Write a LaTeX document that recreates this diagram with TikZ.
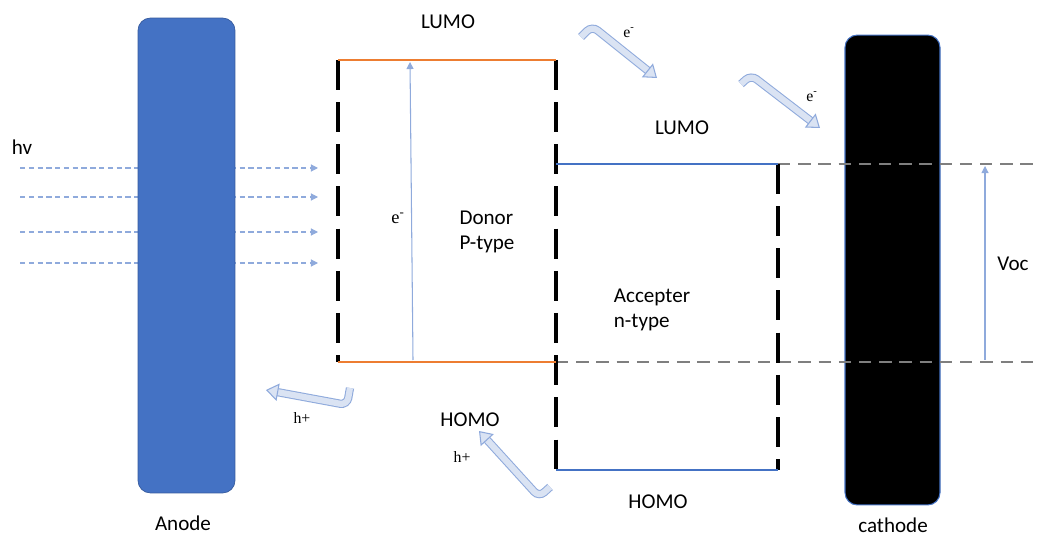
\documentclass[tikz,border=0pt]{standalone}
\usepackage{fontspec}
\setmainfont{Carlito}
\newfontfamily\timesfont{Liberation Serif}
\usetikzlibrary{arrows.meta}

\definecolor{officeblue}{HTML}{4472C4}
\definecolor{lightblue}{HTML}{8FAADC}
\definecolor{paleblue}{HTML}{DAE3F3}
\definecolor{officeorange}{HTML}{ED7D31}
\definecolor{dashgrey}{HTML}{7F7F7F}

\tikzset{
  txt/.style={font=\fontsize{12}{14}\selectfont, align=left},
  small/.style={font=\timesfont\fontsize{9}{10}\selectfont, inner sep=1pt},
  electrode/.style={rounded corners=7pt, inner sep=0pt},
  ray/.style={lightblue, dash pattern=on 3pt off 2pt, line width=0.6pt, -{Triangle[length=4pt,width=4pt]}},
  wall/.style={black, line width=2pt, dash pattern=on 17pt off 7pt},
  level/.style={line width=1.7pt},
  guide/.style={dashgrey, line width=1.1pt, dash pattern=on 7pt off 4.5pt},
  thin/.style={lightblue, line width=0.6pt, -{Triangle[length=4pt,width=4pt]}},
  bent/.style={draw=lightblue, double=paleblue, double distance=3.5pt, line width=0.6pt,
    rounded corners=4pt, -{Triangle[length=7pt,width=10pt,fill=paleblue]}}
}

\begin{document}
\begin{tikzpicture}[x=0.02cm, y=-0.02cm]
  \useasboundingbox (0,0) rectangle (1037,536);

  % light through the anode
  \node[txt] (hv) at (22,147) {hv};
  \foreach \y [count=\i] in {168,197,232,263} {
    \coordinate (r\i s) at (20,\y);
    \coordinate (r\i e) at (318,\y);
    \draw[ray] (r\i s) -- (r\i e);
  }
  \node[electrode, fill=officeblue, draw=officeblue!80!black, line width=0.4pt,
        minimum width=1.94cm, minimum height=9.5cm] (anode) at (186.5,255.5) {};
  \node[txt] (anodetxt) at (183,523) {Anode};

  \node[electrode, fill=black, draw=officeblue, line width=0.6pt,
        minimum width=1.9cm, minimum height=9.4cm] (cathode) at (892.5,270) {};
  \node[txt] (cathodetxt) at (893,525) {cathode};

  % donor levels
  \coordinate (dl) at (338,60);
  \coordinate (dr) at (556,60);
  \coordinate (hl) at (338,362);
  \coordinate (hr) at (556,362);
  \coordinate (hb) at (556,470);
  % acceptor levels
  \coordinate (al) at (556,164);
  \coordinate (ar) at (778,164);
  \coordinate (bl) at (556,470);
  \coordinate (br) at (778,470);
  \coordinate (ge) at (1037,164);
  \coordinate (gf) at (1037,362);

  \draw[guide] (ar) -- (ge);
  \draw[guide] (hr) -- (gf);
  \draw[wall] (dl) -- (hl);
  \draw[wall] (dr) -- (hb);
  \draw[wall] (ar) -- (br);
  \draw[level, officeorange] (dl) -- (dr);
  \draw[level, officeorange] (hl) -- (hr);
  \draw[level, officeblue] (al) -- (ar);
  \draw[level, officeblue] (bl) -- (br);

  \coordinate (ex0) at (413,360);
  \coordinate (ex1) at (410,62);
  \draw[thin] (ex0) -- (ex1);
  \coordinate (v0) at (985,360);
  \coordinate (v1) at (985,166);
  \draw[thin] (v0) -- (v1);

  \node[txt] (lumo1) at (448,22) {LUMO};
  \node[txt] (lumo2) at (682,128) {LUMO};
  \node[txt] (homo1) at (470,420) {HOMO};
  \node[txt] (homo2) at (658,502) {HOMO};
  \node[txt] (donor) at (487,232) {Donor\\P-type};
  \node[txt] (accept) at (652,310) {Accepter\\n-type};
  \node[txt] (voc) at (1013,264) {Voc};
  \node[small, font=\timesfont\fontsize{10.5}{11}\selectfont] (e0) at (398,218) {e\textsuperscript{-}};

  % charge transfer
  \coordinate (a1s) at (581,37);
  \coordinate (a1c) at (592,26);
  \coordinate (a1e) at (657,78);
  \draw[bent] (a1s) -- (a1c) -- (a1e);
  \node[small] (e1) at (629,33) {e\textsuperscript{-}};

  \coordinate (a2s) at (741,84);
  \coordinate (a2c) at (751,75);
  \coordinate (a2e) at (820,128);
  \draw[bent] (a2s) -- (a2c) -- (a2e);
  \node[small] (e2) at (812,97) {e\textsuperscript{-}};

  \coordinate (a3s) at (350,388);
  \coordinate (a3c) at (347,405);
  \coordinate (a3e) at (266,390);
  \draw[bent] (a3s) -- (a3c) -- (a3e);
  \node[small] (h1) at (302,418) {h+};

  \coordinate (a4s) at (550,487);
  \coordinate (a4c) at (539,497);
  \coordinate (a4e) at (479,431);
  \draw[bent] (a4s) -- (a4c) -- (a4e);
  \node[small] (h2) at (462,457) {h+};
\end{tikzpicture}
\end{document}
